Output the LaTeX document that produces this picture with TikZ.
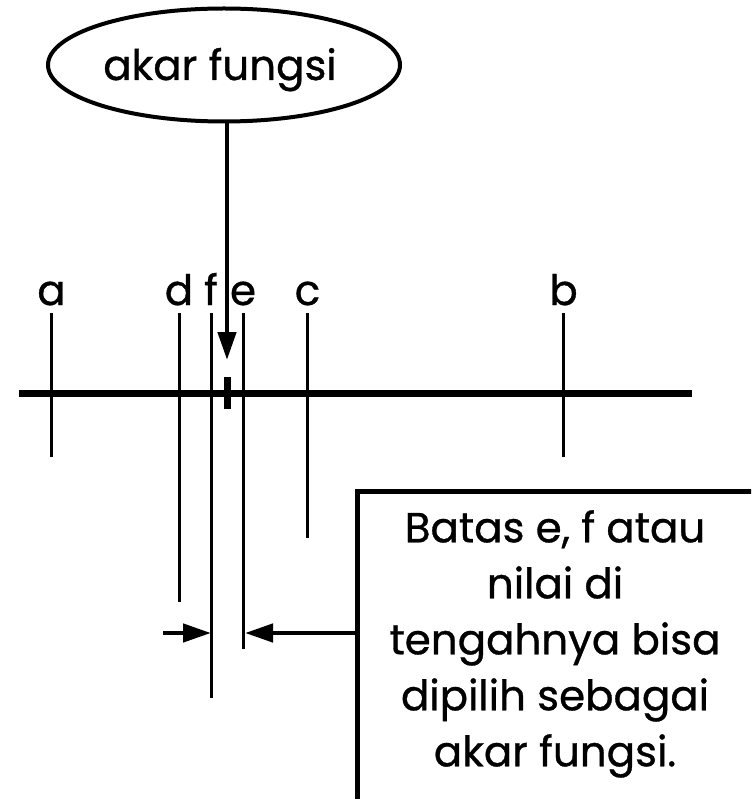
\documentclass[tikz,border=0pt]{standalone}
\usepackage{fontspec}
\setmainfont{Poppins}[FakeBold=0.8]
\usetikzlibrary{arrows.meta,shapes.geometric}
\begin{document}
\begin{tikzpicture}[x=1pt,y=-1pt,
  txt/.style={font=\fontsize{42}{56}\selectfont, inner sep=0pt},
  axisline/.style={line width=7pt},
  tickline/.style={line width=3pt},
  pointer/.style={line width=4.5pt, -{Triangle[length=28pt,width=18pt]}},
  ptlabel/.style={txt, anchor=base}]
\useasboundingbox (0,0) rectangle (751,799);
\clip (0,0) rectangle (751,799);

% number line
\coordinate (axL) at (19,393);
\coordinate (axR) at (692,393);
\draw[axisline] (axL) -- (axR);

% interval marks with their labels
\foreach \nm/\x/\yb in {a/51.5/457, d/179/602, f/211/698, e/243/649, c/307.5/538, b/563.5/457}{
  \coordinate (\nm top) at (\x,313);
  \coordinate (\nm bot) at (\x,\yb);
  \draw[tickline] (\nm top) -- (\nm bot);
  \node[ptlabel] (lbl\nm) at (\x,305) {\nm};
}

% root location on the axis
\coordinate (rootT) at (227,377);
\coordinate (rootB) at (227,409);
\draw[line width=7pt] (rootT) -- (rootB);

% callout ellipse pointing to the root
\node[draw, ellipse, line width=4pt, minimum width=352pt, minimum height=113pt, inner sep=0pt] (akar) at (224,65) {};
\node[txt, anchor=base] (akartxt) at (220,80) {akar fungsi};
\coordinate (rootTip) at (227,360);
\draw[pointer] (akar.south -| rootTip) -- (rootTip);

% explanation box
\node[draw, line width=5pt, anchor=north west, minimum width=420pt, minimum height=340pt, inner sep=0pt] (box) at (355,489) {};
\node[txt, align=center, anchor=north] (note) at (555,510) {Batas e, f atau\\nilai di\\tengahnya bisa\\dipilih sebagai\\akar fungsi.};

% arrows marking the chosen bracket
\coordinate (arL) at (163,633);
\coordinate (fTip) at (211,633);
\coordinate (eTip) at (245,633);
\draw[pointer] (arL) -- (fTip);
\draw[pointer] (box.west |- eTip) -- (eTip);
\end{tikzpicture}
\end{document}
